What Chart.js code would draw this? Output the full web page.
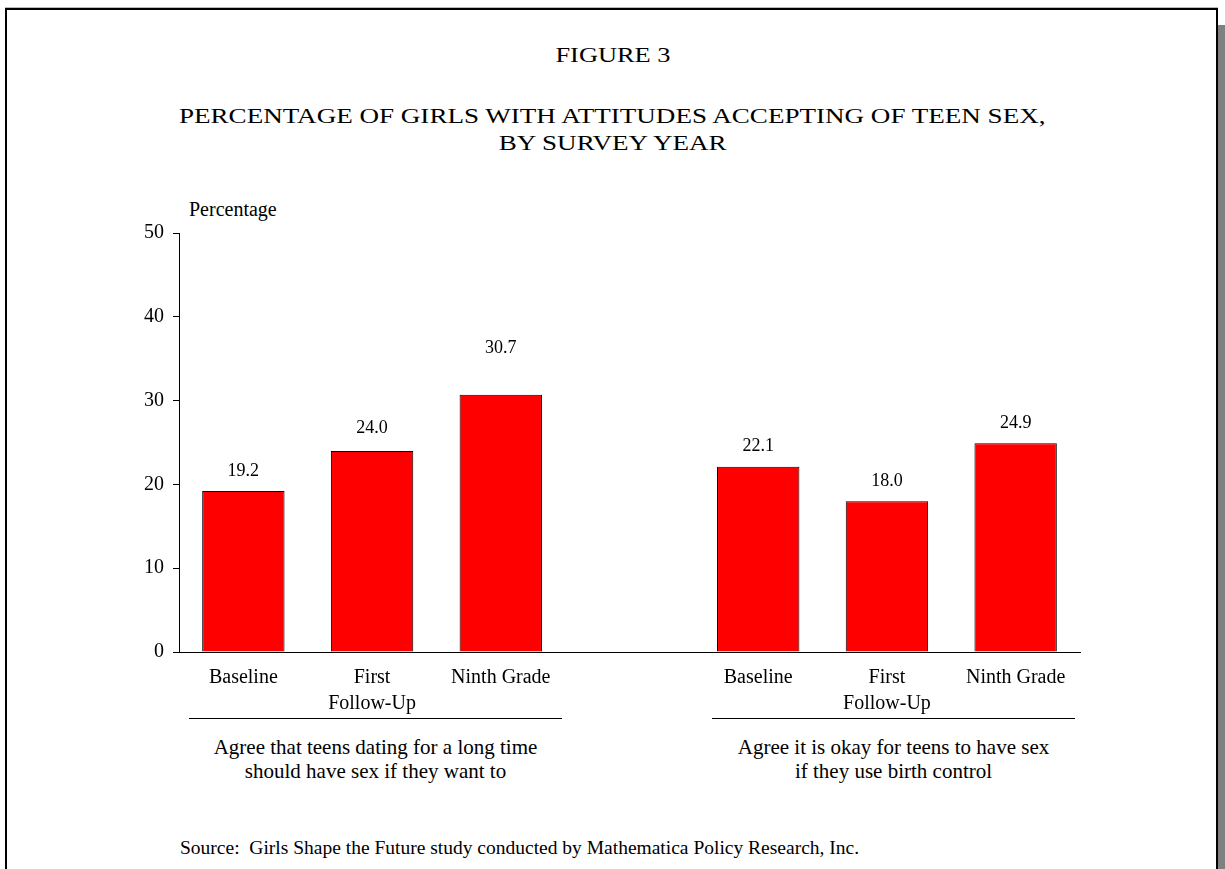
<!DOCTYPE html>
<html>
<head>
<meta charset="utf-8">
<script src="https://cdn.jsdelivr.net/npm/chart.js@4.4.0/dist/chart.umd.min.js"></script>
<style>
  html, body { margin: 0; padding: 0; background: #fff; }
  body { width: 1225px; height: 869px; position: relative; overflow: hidden; font-family: "Liberation Serif", "Times New Roman", serif; color: #000; }
  #frame { position: absolute; left: 5px; top: 8px; width: 1209px; height: 900px; border: 2px solid #000; box-shadow: 0 -1px 0 #bbb; }
  #shadow { position: absolute; left: 1218px; top: 25px; width: 7px; height: 860px; background: #808080; }
  .t { position: absolute; left: 0; width: 1225px; text-align: center; white-space: nowrap; line-height: 1; }
  .t span { display: inline-block; transform: scaleX(1.23); }
  .abs { position: absolute; white-space: nowrap; }
  .gline { position: absolute; height: 0; border-top: 1.5px solid #000; }
  #chartWrap { position: absolute; left: 0; top: 0; width: 1225px; height: 869px; }
</style>
</head>
<body>
<div id="frame"></div>
<div id="shadow"></div>
<div class="t" style="top:44px;font-size:22px;"><span style="transform:scaleX(1.2);">FIGURE 3</span></div>
<div class="t" style="top:105px;font-size:22px;"><span>PERCENTAGE OF GIRLS WITH ATTITUDES ACCEPTING OF TEEN SEX,</span></div>
<div class="t" style="top:132px;font-size:22px;"><span>BY SURVEY YEAR</span></div>
<div class="abs" style="left:189px;top:199px;font-size:20px;line-height:1;">Percentage</div>
<div class="gline" style="left:189px;width:373px;top:718px;"></div>
<div class="gline" style="left:712px;width:363px;top:718px;"></div>
<div class="abs" style="left:189px;width:373px;top:735px;font-size:21px;line-height:24px;text-align:center;">Agree that teens dating for a long time<br>should have sex if they want to</div>
<div class="abs" style="left:712px;width:363px;top:735px;font-size:21px;line-height:24px;text-align:center;">Agree it is okay for teens to have sex<br>if they use birth control</div>
<div class="abs" style="left:180px;top:838px;font-size:19.5px;line-height:1;">Source:&nbsp; Girls Shape the Future study conducted by Mathematica Policy Research, Inc.</div>
<div id="chartWrap"><canvas id="c"></canvas></div>
<script>
const categories = ["Baseline", ["First", "Follow-Up"], "Ninth Grade", "", "Baseline", ["First", "Follow-Up"], "Ninth Grade"];
const percentages = [19.2, 24.0, 30.7, null, 22.1, 18.0, 24.9];
const yTicks = [0, 10, 20, 30, 40, 50];

const valueLabels = {
  id: 'valueLabels',
  afterDatasetsDraw(chart, args, opts) {
    const ctx = chart.ctx;
    const meta = chart.getDatasetMeta(0);
    const extra = opts.extraLift || [];
    ctx.save();
    ctx.font = '18px "Liberation Serif", serif';
    ctx.fillStyle = '#000';
    ctx.textAlign = 'center';
    ctx.textBaseline = 'alphabetic';
    meta.data.forEach((bar, i) => {
      const v = percentages[i];
      if (v === null || v === undefined) return;
      ctx.fillText(v.toFixed(1), bar.x, bar.y - 15 - (extra[i] || 0));
    });
    ctx.restore();
  }
};

new Chart(document.getElementById('c'), {
  type: 'bar',
  data: {
    labels: categories,
    datasets: [{
      data: percentages,
      backgroundColor: '#FF0000',
      borderColor: '#000000',
      borderWidth: 1,
      barPercentage: 0.64,
      categoryPercentage: 1.0
    }]
  },
  options: {
    responsive: true,
    maintainAspectRatio: false,
    animation: false,
    events: [],
    layout: { padding: { top: 233, right: 145, left: 0, bottom: 0 } },
    plugins: {
      legend: { display: false }, tooltip: { enabled: false }, title: { display: false },
      valueLabels: { extraLift: [0, 3, 27, 0, 1, 0, 0] }
    },
    scales: {
      x: {
        grid: { display: false, drawTicks: false },
        border: { display: true, color: '#000', width: 1 },
        ticks: {
          color: '#000',
          font: { family: '"Liberation Serif", serif', size: 20, lineHeight: 1.3 },
          maxRotation: 0, minRotation: 0, autoSkip: false, padding: 13
        },
        afterFit(scale) { scale.height = 217; }
      },
      y: {
        min: 0, max: 50,
        afterBuildTicks(scale) { scale.ticks = yTicks.map(v => ({ value: v })); },
        grid: { drawOnChartArea: false, drawTicks: true, tickLength: 6, color: '#000', lineWidth: 1 },
        border: { display: true, color: '#000', width: 1 },
        ticks: {
          color: '#000',
          font: { family: '"Liberation Serif", serif', size: 20 },
          padding: 9
        },
        afterFit(scale) { scale.width = 179; }
      }
    }
  },
  plugins: [valueLabels]
});
</script>
</body>
</html>
